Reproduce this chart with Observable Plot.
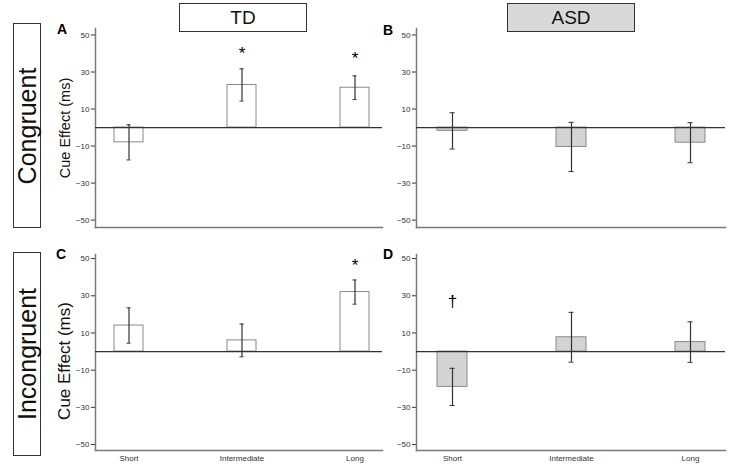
<!DOCTYPE html>
<html><head><meta charset="utf-8">
<script src="https://cdn.jsdelivr.net/npm/d3@7"></script>
<script src="https://cdn.jsdelivr.net/npm/@observablehq/plot@0.6"></script>
<style>
body{margin:0;background:#fff;}
#root{position:relative;width:737px;height:468px;font-family:"Liberation Sans",Arial,Helvetica,sans-serif;overflow:hidden;background:#fff}
.rowbox{position:absolute;border:1.3px solid #333;box-sizing:border-box;}
.rowbox span{position:absolute;left:50%;top:50%;transform:translate(-50%,-50%) rotate(-90deg);font-size:25px;white-space:nowrap;color:#111;line-height:1}
.hdr{position:absolute;border:1.3px solid #333;box-sizing:border-box;display:flex;align-items:center;justify-content:center;font-size:19px;color:#111}
.letter{position:absolute;font-weight:bold;font-size:14px;line-height:14px;color:#000}
.ylab{position:absolute;transform:translate(-50%,-50%) rotate(-90deg);white-space:nowrap;color:#111;line-height:1}
.plotsvg{position:absolute}
</style></head>
<body><div id="root"></div>
<script>
const conditions = ["Short", "Intermediate", "Long"];
const groups = ["TD", "ASD"];
const rows = ["Congruent", "Incongruent"];
const panelLetters = ["A", "B", "C", "D"];
const yTicks = [-50, -30, -10, 10, 30, 50];
const yLabel = "Cue Effect (ms)";

const tdCongruentMean = [-8, 23, 21.5];
const tdCongruentSE = [9.5, 8.7, 6.4];
const asdCongruentMean = [-1.8, -10.5, -8.2];
const asdCongruentSE = [9.8, 13.3, 10.8];
const tdIncongruentMean = [14, 6, 32];
const tdIncongruentSE = [9.5, 8.8, 6.5];
const asdIncongruentMean = [-19, 7.7, 5.1];
const asdIncongruentSE = [10, 13.4, 10.9];

// significance markers: condition, y (ms), symbol
const sigA = [["Intermediate", 40, "*"], ["Long", 37.5, "*"]];
const sigB = [];
const sigC = [["Long", 46, "*"]];
const sigD = [["Short", 27, "\u2020"]];

const root = document.getElementById("root");

function addDiv(cls, text, css) {
  const d = document.createElement("div");
  d.className = cls;
  if (cls === "rowbox") { const s = document.createElement("span"); s.textContent = text; d.appendChild(s); }
  else d.textContent = text;
  Object.assign(d.style, css);
  root.appendChild(d);
  return d;
}

function panel(o) {
  const data = conditions.map((c, i) => ({cond: c, mean: o.means[i], se: o.ses[i]}));
  const notes = o.sig.map(([cond, y, label]) => ({cond, y, label}));
  const svg = Plot.plot({
    width: o.width, height: o.height,
    marginLeft: o.marginLeft, marginRight: 2, marginTop: 8, marginBottom: o.marginBottom,
    style: {fontFamily: "Liberation Sans, Arial, sans-serif", fontSize: "8px", color: "#333", background: "transparent", overflow: "visible"},
    x: {domain: conditions, paddingInner: o.pi, paddingOuter: o.po, align: o.align, label: null,
        axis: o.xLabels ? "bottom" : null, tickSize: 0, tickPadding: 5},
    y: {domain: o.yDomain, ticks: yTicks, tickSize: 4, tickPadding: 2, label: null},
    marks: [
      Plot.barY(data, {x: "cond", y: "mean", fill: o.fill, stroke: "#8a8a8a", strokeWidth: 1}),
      Plot.frame({anchor: "left", stroke: "#7a7a7a", strokeWidth: 1.5}),
      Plot.frame({anchor: "bottom", stroke: "#7a7a7a", strokeWidth: 1.5}),
      Plot.ruleY([0], {stroke: "#333", strokeWidth: 1.2}),
      Plot.ruleX(data, {x: "cond", y1: d => d.mean - d.se, y2: d => d.mean + d.se, stroke: "#333", strokeWidth: 1.2}),
      Plot.tickY(data, {x: "cond", y: d => d.mean - d.se, stroke: "#333", inset: 12.5}),
      Plot.tickY(data, {x: "cond", y: d => d.mean + d.se, stroke: "#333", inset: 12.5}),
      Plot.text(notes, {x: "cond", y: "y", text: "label", fontSize: 17, fill: "#000"})
    ]
  });
  svg.classList.add("plotsvg");
  svg.style.left = o.left + "px";
  svg.style.top = o.top + "px";
  root.appendChild(svg);
}

const leftCol = {left: 45, marginLeft: 50, width: 339, pi: 0.745, po: 0.137, align: 0.6};
const rightCol = {left: 370, marginLeft: 46, width: 357, pi: 0.749, po: 0.167, align: 0.5};
const topRow = {top: 20, height: 211, marginBottom: 4, yDomain: [-54, 53.5], xLabels: false};
const botRow = {top: 246, height: 222, marginBottom: 18, yDomain: [-53.2, 52.2], xLabels: true};

panel({...leftCol, ...topRow, means: tdCongruentMean, ses: tdCongruentSE, sig: sigA, fill: "#ffffff"});
panel({...rightCol, ...topRow, means: asdCongruentMean, ses: asdCongruentSE, sig: sigB, fill: "#d3d3d3"});
panel({...leftCol, ...botRow, means: tdIncongruentMean, ses: tdIncongruentSE, sig: sigC, fill: "#ffffff"});
panel({...rightCol, ...botRow, means: asdIncongruentMean, ses: asdIncongruentSE, sig: sigD, fill: "#d3d3d3"});

addDiv("hdr", groups[0], {left: "179px", top: "3px", width: "128px", height: "29px", background: "#fff"});
addDiv("hdr", groups[1], {left: "507px", top: "3px", width: "128px", height: "29px", background: "#d9d9d9"});
addDiv("rowbox", rows[0], {left: "13px", top: "23px", width: "28px", height: "205px"});
addDiv("rowbox", rows[1], {left: "13px", top: "252px", width: "28px", height: "204px"});
addDiv("letter", panelLetters[0], {left: "57px", top: "22px"});
addDiv("letter", panelLetters[1], {left: "383px", top: "23px"});
addDiv("letter", panelLetters[2], {left: "56px", top: "247px"});
addDiv("letter", panelLetters[3], {left: "383px", top: "247px"});
addDiv("ylab", yLabel, {left: "65px", top: "128px", fontSize: "14.5px"});
addDiv("ylab", yLabel, {left: "64px", top: "361px", fontSize: "17px"});
</script>
</body></html>
